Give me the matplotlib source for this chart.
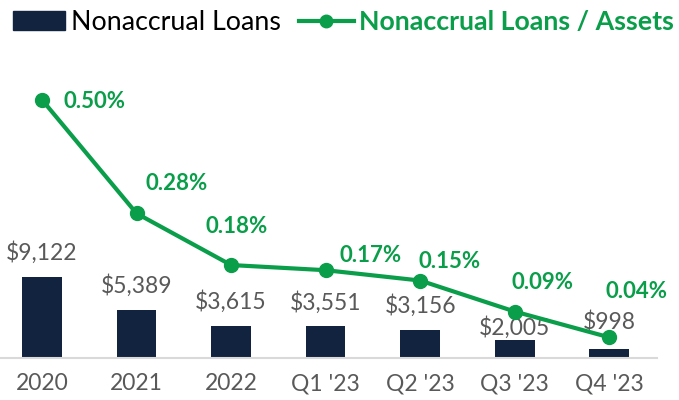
import matplotlib.pyplot as plt
from matplotlib.lines import Line2D
from matplotlib.patches import Patch

plt.rcParams['font.family'] = ['Lato', 'DejaVu Sans']

periodos = ['2020', '2021', '2022', "Q1 '23", "Q2 '23", "Q3 '23", "Q4 '23"]
emprestimos = [9122, 5389, 3615, 3551, 3156, 2005, 998]
razao = [0.50, 0.28, 0.18, 0.17, 0.15, 0.09, 0.04]

navy = '#12233F'
verde = '#0A9E4A'
cinza = '#595959'

fig = plt.figure(figsize=(6.79, 4.0), dpi=100)
ax = fig.add_axes([0.0, 0.105, 0.968, 0.745])
x = range(len(periodos))

ax.bar(x, emprestimos, width=0.42, color=navy, zorder=2)
ax.set_xlim(-0.444, 6.508)
ax.set_ylim(0, 33373)
ax.set_yticks([])
for s in ['top', 'right', 'left']:
    ax.spines[s].set_visible(False)
ax.spines['bottom'].set_color('#D9D9D9')
ax.spines['bottom'].set_linewidth(1.5)
ax.set_xticks(list(x))
ax.set_xticklabels(periodos, fontsize=16.5, color=cinza)
ax.tick_params(axis='x', length=0, pad=11)

# rótulos das barras
desloc_barra = [24, 24, 24, 24, 24, 13, 27]
for i, v in enumerate(emprestimos):
    ax.annotate(f'${v:,}', (i, v), xytext=(0, desloc_barra[i] * 0.72),
                textcoords='offset points', ha='center', va='center',
                fontsize=16.5, color=cinza)

ax2 = ax.twinx()
ax2.set_ylim(0, 0.577)
ax2.axis('off')
ax2.plot(x, razao, color=verde, lw=3, marker='o', markersize=10, zorder=3)

desloc_pct = [(53, -2), (40, 30), (6, 39), (45, 15), (29, 19), (28, 29), (27, 46)]
for i, v in enumerate(razao):
    dx, dy = desloc_pct[i]
    ax2.annotate(f'{v:.2f}%', (i, v), xytext=(dx * 0.72, dy * 0.72),
                 textcoords='offset points', ha='center', va='center',
                 fontsize=16, color=verde, fontweight='bold')

leg1 = fig.legend([Patch(color=navy)], ['Nonaccrual Loans'],
                  loc='upper left', bbox_to_anchor=(13 / 679, 0.975),
                  frameon=False, fontsize=19.3, handlelength=1.95,
                  handleheight=0.75, handletextpad=0.22,
                  borderpad=0, borderaxespad=0)
leg2 = fig.legend([Line2D([], [], color=verde, lw=3, marker='o', markersize=9)],
                  ['Nonaccrual Loans / Assets'],
                  loc='upper left', bbox_to_anchor=(299 / 679, 0.975),
                  frameon=False, fontsize=19.3, handlelength=2.05,
                  handletextpad=0.2, borderpad=0, borderaxespad=0)
leg2.get_texts()[0].set_color(verde)
leg2.get_texts()[0].set_fontweight('bold')

fig.savefig('out.png', dpi=100)
